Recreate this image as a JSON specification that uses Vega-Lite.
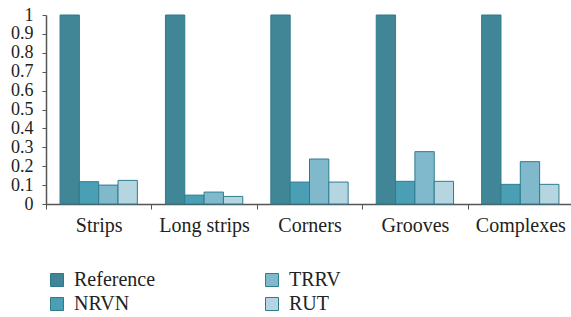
{
  "$schema": "https://vega.github.io/schema/vega-lite/v6.json",
  "width": 527,
  "height": 189,
  "autosize": {"type": "none"},
  "padding": {"left": 46, "top": 15, "right": 0, "bottom": 113},
  "background": "white",
  "config": {
    "view": {"stroke": null},
    "font": "Liberation Serif",
    "axis": {"labelFont": "Liberation Serif", "labelColor": "#222", "domainColor": "#555", "tickColor": "#555", "grid": false},
    "legend": {"labelFont": "Liberation Serif"}
  },
  "data": {
    "values": [
      {"category": "Strips", "method": "Reference", "value": 1},
      {"category": "Strips", "method": "NRVN", "value": 0.118},
      {"category": "Strips", "method": "TRRV", "value": 0.1},
      {"category": "Strips", "method": "RUT", "value": 0.125},
      {"category": "Long strips", "method": "Reference", "value": 1},
      {"category": "Long strips", "method": "NRVN", "value": 0.047},
      {"category": "Long strips", "method": "TRRV", "value": 0.063},
      {"category": "Long strips", "method": "RUT", "value": 0.04},
      {"category": "Corners", "method": "Reference", "value": 1},
      {"category": "Corners", "method": "NRVN", "value": 0.116},
      {"category": "Corners", "method": "TRRV", "value": 0.238},
      {"category": "Corners", "method": "RUT", "value": 0.116},
      {"category": "Grooves", "method": "Reference", "value": 1},
      {"category": "Grooves", "method": "NRVN", "value": 0.12},
      {"category": "Grooves", "method": "TRRV", "value": 0.277},
      {"category": "Grooves", "method": "RUT", "value": 0.12},
      {"category": "Complexes", "method": "Reference", "value": 1},
      {"category": "Complexes", "method": "NRVN", "value": 0.104},
      {"category": "Complexes", "method": "TRRV", "value": 0.224},
      {"category": "Complexes", "method": "RUT", "value": 0.104}
    ]
  },
  "mark": {"type": "bar", "stroke": "#2f7b8e", "strokeWidth": 1},
  "encoding": {
    "x": {
      "field": "category",
      "type": "nominal",
      "sort": ["Strips", "Long strips", "Corners", "Grooves", "Complexes"],
      "scale": {"paddingInner": 0, "paddingOuter": 0},
      "axis": {"title": null, "labelAngle": 0, "labelFontSize": 20, "labelPadding": 6, "tickBand": "extent", "tickSize": 5, "domainWidth": 1.5}
    },
    "xOffset": {
      "field": "method",
      "type": "nominal",
      "sort": ["Reference", "NRVN", "TRRV", "RUT"],
      "scale": {"paddingInner": 0, "paddingOuter": 0.727}
    },
    "y": {
      "field": "value",
      "type": "quantitative",
      "scale": {"domain": [0, 1], "nice": false},
      "axis": {"title": null, "values": [0, 0.1, 0.2, 0.3, 0.4, 0.5, 0.6, 0.7, 0.8, 0.9, 1], "format": ".1~f", "labelFontSize": 18, "labelPadding": 9, "labelOverlap": false, "labelBound": false, "labelFlush": false, "tickSize": 4, "domainWidth": 1.5}
    },
    "color": {
      "field": "method",
      "type": "nominal",
      "scale": {"domain": ["Reference", "NRVN", "TRRV", "RUT"], "range": ["#408696", "#4a9fb5", "#80b9cc", "#b5d6e1"]},
      "legend": {
        "title": null,
        "orient": "none",
        "legendX": 1,
        "legendY": 255,
        "columns": 2,
        "columnPadding": 106,
        "rowPadding": 4,
        "symbolType": "square",
        "symbolSize": 169,
        "symbolStrokeColor": "#2f7b8e",
        "symbolStrokeWidth": 1,
        "labelFontSize": 20,
        "labelOffset": 7,
        "labelColor": "#222"
      }
    }
  }
}
